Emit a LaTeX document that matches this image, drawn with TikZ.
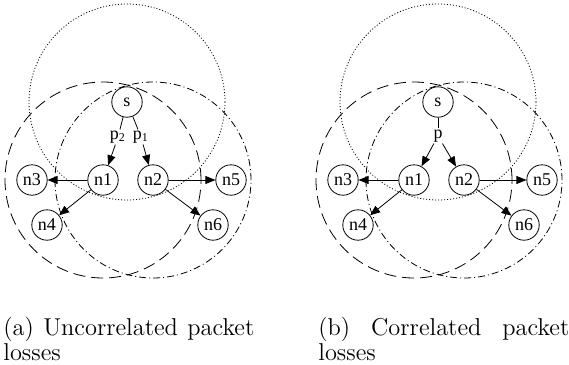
\documentclass[tikz,border=0pt]{standalone}
\usepackage{fontspec}
\newfontfamily\timesfont{Liberation Serif}
\usetikzlibrary{arrows.meta}

\begin{document}
\begin{tikzpicture}[x=0.5pt, y=-0.5pt,
    nd/.style={draw, circle, minimum size=15.2pt, inner sep=0pt, font=\timesfont\fontsize{9}{11}\selectfont},
    lbl/.style={inner sep=0.5pt, font=\timesfont\fontsize{9}{11}\selectfont},
    arr/.style={-{Triangle[length=5pt, width=4pt]}},
    capt/.style={anchor=north west, inner sep=0pt, text width=125.5pt, align=justify, font=\fontsize{12.2}{12.5}\selectfont}]
    \useasboundingbox (0,0) rectangle (569,365);

    % both panels share the nodes and the ranges
    \foreach \pan/\dx in {a/0, b/311} {
        \node[nd] (\pan-s) at (127+\dx,102) {s};
        \node[nd] (\pan-n1) at (103+\dx,180) {n1};
        \node[nd] (\pan-n2) at (153+\dx,180) {n2};
        \node[nd] (\pan-n3) at (32+\dx,180) {n3};
        \node[nd] (\pan-n4) at (47+\dx,225) {n4};
        \node[nd] (\pan-n5) at (231+\dx,180) {n5};
        \node[nd] (\pan-n6) at (213+\dx,225) {n6};

        % transmission ranges
        \draw[dash pattern=on 0.5pt off 1pt] (\pan-s.center) circle[radius=49pt];
        \draw[dash pattern=on 6pt off 3pt] (\pan-n1.center) circle[radius=49pt];
        \draw[dash pattern=on 3.5pt off 1.5pt on 0.5pt off 1.5pt] (\pan-n2.center) circle[radius=49pt];

        \draw[arr] (\pan-n1) -- (\pan-n3);
        \draw[arr] (\pan-n1) -- (\pan-n4);
        \draw[arr] (\pan-n2) -- (\pan-n5);
        \draw[arr] (\pan-n2) -- (\pan-n6);
    }

    % uncorrelated losses
    \node[lbl] (a-p2) at (118,137) {p\textsubscript{2}};
    \node[lbl] (a-p1) at (141,137) {p\textsubscript{1}};
    \draw (a-s) -- (a-p2);
    \draw (a-s) -- (a-p1);
    \draw[arr] (a-p2) -- (a-n1);
    \draw[arr] (a-p1) -- (a-n2);

    % correlated losses
    \node[lbl] (b-p) at (438,136) {p};
    \draw (b-s) -- (b-p);
    \draw[arr] (b-p) -- (b-n1);
    \draw[arr] (b-p) -- (b-n2);

    \node[capt] (a-cap) at (3,317) {(a) Uncorrelated packet losses};
    \node[capt] (b-cap) at (318,317) {(b) Correlated packet losses};
\end{tikzpicture}
\end{document}
